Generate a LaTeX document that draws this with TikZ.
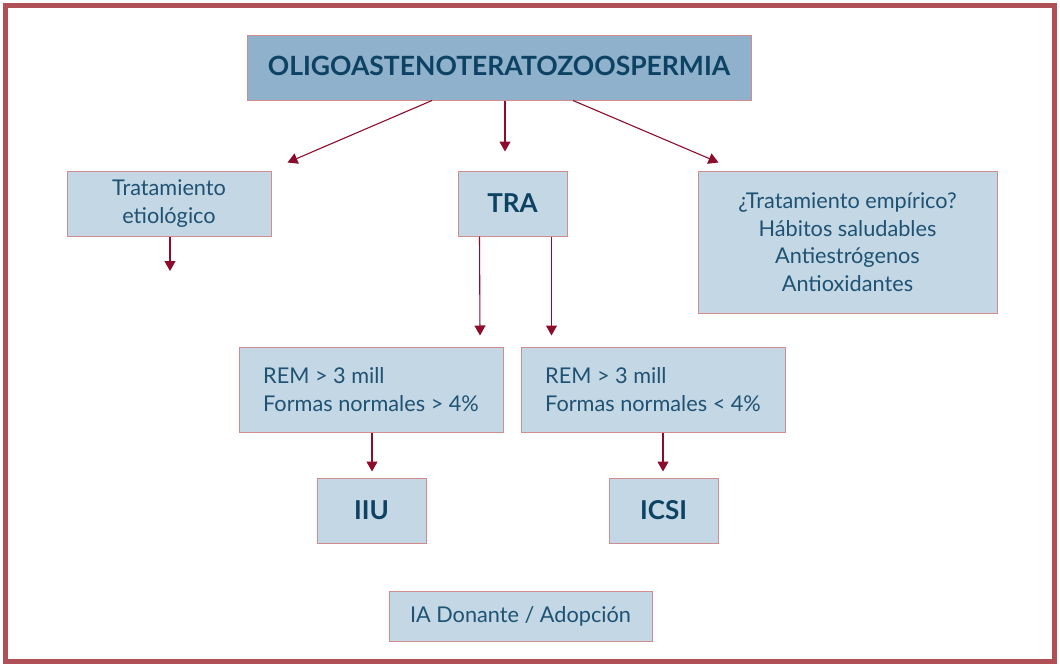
\documentclass[tikz,border=0pt]{standalone}
\usepackage{fontspec}
\setmainfont{Lato}
\usetikzlibrary{arrows.meta}
\definecolor{frame}{HTML}{B04F55}
\definecolor{edge}{HTML}{D38C8E}
\definecolor{lightfill}{HTML}{C3D7E4}
\definecolor{darkfill}{HTML}{8FB1CB}
\definecolor{txt}{HTML}{1F5273}
\definecolor{boldtxt}{HTML}{0D4263}
\definecolor{arrowc}{HTML}{8C0C2C}
\tikzset{
  box/.style={draw=edge, line width=1pt, fill=lightfill, text=txt, inner sep=0pt,
    font=\fontsize{21.7}{27.5}\selectfont, align=center},
  boldbox/.style={box, text=boldtxt, font=\fontsize{26}{30}\selectfont\bfseries},
  rembox/.style={box, minimum width=264pt, minimum height=85pt,
    align=left, font=\fontsize{21.7}{28}\selectfont},
  conn/.style={draw=arrowc, line width=1.1pt, -{Triangle[width=11pt,length=10pt]}}
}
\begin{document}
\begin{tikzpicture}[x=1pt,y=-1pt]
\useasboundingbox (0,0) rectangle (1060,667);
\draw[frame, line width=5pt] (5.5,5.5) rectangle (1054.5,661.5);

\node[boldbox, fill=darkfill, minimum width=504pt, minimum height=65pt, font=\fontsize{26.5}{30}\selectfont\bfseries] (title) at (499,67.5) {\raisebox{3pt}{OLIGOASTENOTERATOZOOSPERMIA}};
\node[box, minimum width=204pt, minimum height=65pt] (etio) at (169,203.5) {Tratamiento\\etiológico};
\node[boldbox, minimum width=109pt, minimum height=65pt] (tra) at (512.5,203.5) {TRA};
\node[box, minimum width=299pt, minimum height=142pt] (emp) at (847.5,242) {¿Tratamiento empírico?\\Hábitos saludables\\Antiestrógenos\\Antioxidantes};
\node[rembox] (reml) at (371,389.5) {REM > 3 mill\\Formas normales > 4\%};
\node[rembox] (remr) at (653,389.5) {REM > 3 mill\\Formas normales < 4\%};
\node[boldbox, minimum width=109pt, minimum height=65pt] (iiu) at (371.5,510.5) {IIU};
\node[boldbox, minimum width=109pt, minimum height=65pt] (icsi) at (663.5,510.5) {ICSI};
\node[box, minimum width=263pt, minimum height=50pt] (ia) at (520.5,616) {IA Donante / Adopción};

\coordinate (etioend) at (170,271);

\draw[conn] ([xshift=-67pt]title.south) -- ([xshift=16pt,yshift=8pt]etio.north east);
\draw[conn] ([xshift=6pt]title.south) -- ([xshift=-7.5pt,yshift=19pt]tra.north);
\draw[conn] ([xshift=74pt]title.south) -- ([xshift=21pt,yshift=8pt]emp.north west);
\draw[conn] ([xshift=1pt]etio.south) -- (etioend);
\draw[conn] ([xshift=22pt]tra.south west) -- ([xshift=-23.5pt,yshift=11pt]reml.north east);
\draw[conn] ([xshift=-16pt]tra.south east) -- ([xshift=31pt,yshift=11pt]remr.north west);
\draw[conn] ([xshift=1pt]reml.south) -- ([xshift=0.5pt,yshift=6pt]iiu.north);
\draw[conn] ([xshift=10pt]remr.south) -- ([xshift=-0.5pt,yshift=6pt]icsi.north);
\end{tikzpicture}
\end{document}
